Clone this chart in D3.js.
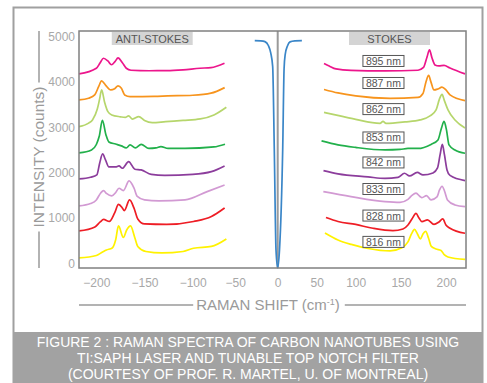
<!DOCTYPE html>
<html><head><meta charset="utf-8">
<script src="https://cdn.jsdelivr.net/npm/d3@7"></script>
<style>
html,body{margin:0;padding:0;background:#fff;}
svg{display:block;font-family:"Liberation Sans",Arial,sans-serif;}
</style></head>
<body><svg id="c" width="487" height="383"></svg>
<script>
// ---- data (Raman shift cm^-1, intensity counts) ----
const wavelengths = ["895 nm","887 nm","862 nm","853 nm","842 nm","833 nm","828 nm","816 nm"];
const colors = ["#ec168c","#f7941d","#b6d66c","#22b04b","#8c3d9c","#d29ad3","#ee1d25","#fff200"];
const labelLevels = [4460, 3975, 3400, 2775, 2225, 1640, 1055, 475];
const xTicks = [-200,-150,-100,-50,0,50,100,150,200];
const yTicks = [0,1000,2000,3000,4000,5000];

const antiStokes895 = [[-218,4175],[-200,4300],[-196,4420],[-192.6,4520],[-188,4460],[-184.3,4377],[-180.5,4450],[-177.5,4527],[-173,4420],[-168.9,4300],[-164,4256],[-145,4245],[-126.7,4247],[-110,4265],[-91.4,4300],[-78.5,4313],[-62.6,4410]];
const antiStokes887 = [[-218,3602],[-208,3640],[-201.7,3712],[-197.5,3900],[-194.6,4020],[-190.5,3930],[-185,3822],[-181,3850],[-177.5,3910],[-174,3860],[-170.6,3712],[-165,3675],[-140,3680],[-126,3690],[-100,3705],[-78.5,3750],[-62.4,3873]];
const antiStokes862 = [[-218,3014],[-208,3090],[-204,3161],[-199,3400],[-196.8,3602],[-194.5,3822],[-191.5,3558],[-188,3344],[-184,3271],[-175,3230],[-170,3216],[-166.5,3250],[-162.5,3180],[-156,3235],[-150,3150],[-142,3102],[-128,3124],[-110,3150],[-91,3183],[-75,3271],[-60.4,3441]];
const antiStokes853 = [[-218,2434],[-205,2500],[-200,2620],[-197,2800],[-193.7,3150],[-190,2831],[-187,2677],[-180,2630],[-174,2589],[-169,2544],[-165,2611],[-159.5,2544],[-153.5,2622],[-145.5,2533],[-138,2544],[-133,2573],[-125.5,2533],[-108,2533],[-75,2566],[-62,2626]];
const antiStokes842 = [[-218,1862],[-206,1900],[-199.5,1950],[-196.5,2214],[-193.5,2412],[-190.5,2280],[-187,2126],[-180,2126],[-176.5,2148],[-173,2097],[-166.5,2243],[-160,2075],[-153.5,2060],[-143,1961],[-129,1939],[-100,1961],[-78,2022],[-62.5,2148]];
const antiStokes833 = [[-218,1267],[-206,1320],[-200,1399],[-195.5,1553],[-192.5,1604],[-189.5,1542],[-184,1487],[-180,1560],[-176.5,1657],[-172,1604],[-166,1817],[-161,1663],[-157.5,1476],[-150,1399],[-135,1377],[-108,1399],[-83,1582],[-62.5,1729]];
const antiStokes828 = [[-218,716],[-201.5,804],[-196,914],[-192.5,969],[-186.5,925],[-181,1113],[-177,1300],[-173,1223],[-171,1163],[-165.5,1399],[-161,1223],[-157,980],[-150,870],[-127,859],[-99,925],[-78,1035],[-62.5,1223]];
const antiStokes816 = [[-218,121],[-200,176],[-193.5,253],[-189.5,297],[-183.5,341],[-180,518],[-177,826],[-172,573],[-168.5,738],[-164.5,826],[-160,562],[-157,375],[-148.5,264],[-132,231],[-110,264],[-99,335],[-78,375],[-60.4,540]];

const stokes895 = [[59.4,4406],[66,4350],[74.7,4285],[94,4252],[132.4,4241],[168.9,4256],[175,4318],[178.9,4549],[181.6,4703],[184.4,4527],[187.7,4373],[192,4350],[197.7,4362],[204.3,4307],[220.9,4175]];
const stokes887 = [[59.4,3833],[77.3,3756],[100,3690],[138,3635],[168.9,3657],[174.4,3745],[177.7,3998],[180.7,4142],[183.2,4000],[186.6,3822],[191,3844],[195.4,3882],[199.8,3822],[204.3,3712],[220.9,3586]];
const stokes862 = [[59.4,3327],[79.9,3249],[100,3172],[126.9,3084],[130.2,3128],[133.5,3084],[154.5,3117],[171.2,3161],[182.2,3249],[188.9,3382],[192.7,3624],[195.5,3723],[198.2,3580],[202.1,3382],[209.8,3161],[220.9,2985]];
const stokes853 = [[56.2,2699],[77.3,2611],[100,2555],[132.4,2500],[149,2511],[157.8,2533],[168.9,2533],[183.3,2622],[191,2721],[194.9,2985],[197.7,3128],[200.4,2941],[203.2,2611],[209.8,2500],[220.9,2428]];
const stokes842 = [[58.7,2044],[77.3,1972],[113.6,1906],[132.4,1873],[146.8,1895],[154,1987],[159.5,1928],[168.1,2005],[174.4,1950],[185.5,1994],[190.5,2104],[193.3,2390],[195.8,2622],[198.2,2390],[201,2060],[204.3,1939],[220.9,1824]];
const stokes833 = [[58.5,1582],[94,1472],[132.4,1361],[149,1344],[157.8,1410],[162.2,1498],[166.7,1547],[171.1,1476],[173.3,1450],[178.3,1494],[183.3,1399],[189.9,1465],[192.7,1619],[195.5,1701],[198.2,1597],[201.5,1399],[209.8,1289],[220.9,1251]];
const stokes828 = [[61.9,1013],[77.3,925],[100,859],[119.1,775],[141.2,723],[152.3,760],[157.8,848],[162.2,980],[166.7,1101],[170,1002],[173.3,921],[179.4,958],[186.6,859],[192.1,914],[196.3,980],[199.8,848],[204.3,775],[220.9,665]];
const stokes816 = [[60.6,672],[77.3,518],[94.4,419],[113.6,330],[137.9,275],[150.4,341],[157.8,474],[161.7,650],[165,749],[168.3,650],[171.6,540],[174.4,650],[177.4,705],[180.5,562],[183.6,375],[188.8,319],[194.4,286],[198.2,187],[202.1,143],[220.9,88]];

const laserNotch = [[-27,4908],[-20,4902],[-15,4885],[-11,4800],[-8.2,4637],[-5.9,4335],[-4,2500],[-2,300],[0,-95],[2.3,300],[6.4,2500],[8.2,4300],[9.6,4600],[12.5,4790],[15.8,4880],[22,4902],[31,4908]];

const antiStokes = [antiStokes895,antiStokes887,antiStokes862,antiStokes853,antiStokes842,antiStokes833,antiStokes828,antiStokes816];
const stokes = [stokes895,stokes887,stokes862,stokes853,stokes842,stokes833,stokes828,stokes816];

// ---- layout ----
const plot = {left:79, right:466, top:31, bottom:268};
const svg = d3.select("#c");

const x = d3.scaleLinear().domain([-218,-100,0,100,222])
  .range([plot.left,192.7,277.7,355.7,plot.right]);
const y = d3.scaleLinear().domain([-100,5120]).range([plot.bottom,plot.top]);

// outer frame + caption band
svg.append("rect").attr("x",13.5).attr("y",7.5).attr("width",469).attr("height",380)
  .attr("fill","#fff").attr("stroke","#a0a0a0").attr("stroke-width",2);
svg.append("rect").attr("x",13).attr("y",332).attr("width",470).attr("height",51).attr("fill","#a2a2a2");
const caption = ["FIGURE 2 : RAMAN SPECTRA OF CARBON NANOTUBES USING",
  "TI:SAPH LASER AND TUNABLE TOP NOTCH FILTER",
  "(COURTESY OF PROF. R. MARTEL, U. OF MONTREAL)"];
svg.append("g").selectAll("text").data(caption).join("text")
  .attr("x",248).attr("y",(d,i)=>346.5+i*16.3).attr("text-anchor","middle")
  .attr("fill","#fff").attr("font-size",14).text(d=>d);

// header boxes
const headers = [{t:"ANTI-STOKES",a:-184,b:-100},{t:"STOKES",a:91.4,b:182.2}];
headers.forEach(h=>{
  svg.append("rect").attr("x",x(h.a)).attr("y",plot.top+1).attr("width",x(h.b)-x(h.a)).attr("height",13).attr("fill","#d4d4d4");
  svg.append("text").attr("x",(x(h.a)+x(h.b))/2).attr("y",plot.top+11.5).attr("text-anchor","middle")
    .attr("fill","#555").attr("font-size",11).text(h.t);
});

// zero line
svg.append("line").attr("x1",x(0)).attr("x2",x(0)).attr("y1",plot.top).attr("y2",plot.bottom)
  .attr("stroke","#9a9a9a").attr("stroke-width",2);

// spectra
const line = d3.line().x(d=>x(d[0])).y(d=>y(d[1])).curve(d3.curveMonotoneX);
const g = svg.append("g").attr("fill","none").attr("stroke-width",1.7).attr("stroke-linejoin","round");
antiStokes.forEach((s,i)=>g.append("path").attr("d",line(s)).attr("stroke",colors[i]));
stokes.forEach((s,i)=>g.append("path").attr("d",line(s)).attr("stroke",colors[i]));
g.append("path").attr("d",line(laserNotch)).attr("stroke","#3a86c8");

// wavelength labels
const lab = svg.append("g");
wavelengths.forEach((w,i)=>{
  const cx = (x(108)+x(153.4))/2, cy = y(labelLevels[i]);
  lab.append("rect").attr("x",x(108)).attr("y",cy-5.5).attr("width",x(153.4)-x(108)).attr("height",11)
    .attr("fill","#fff").attr("stroke","#555").attr("stroke-width",1);
  lab.append("text").attr("x",cx).attr("y",cy+4).attr("text-anchor","middle").attr("fill","#555")
    .attr("font-size",10.5).text(w);
});

// plot frame
svg.append("rect").attr("x",plot.left).attr("y",plot.top).attr("width",plot.right-plot.left)
  .attr("height",plot.bottom-plot.top).attr("fill","none").attr("stroke","#808080").attr("stroke-width",1.5);

// axes
const xAxis = d3.axisBottom(x).tickValues(xTicks).tickSize(0).tickPadding(10).tickFormat(d3.format("d"));
const gx = svg.append("g").attr("transform",`translate(0,${plot.bottom})`).call(xAxis);
const yAxis = d3.axisLeft(y).tickValues(yTicks).tickSize(0).tickPadding(4).tickFormat(d3.format("d"));
const gy = svg.append("g").attr("transform",`translate(${plot.left},0)`).call(yAxis);
[gx,gy].forEach(a=>{a.select(".domain").remove();
  a.selectAll("text").attr("fill","#a8a8a8").attr("font-size",12).attr("font-family","Liberation Sans, Arial, sans-serif");});

// axis titles with rules
const tc = "#9a9a9a";
const xt = svg.append("text").attr("x",268).attr("y",310).attr("text-anchor","middle").attr("fill",tc).attr("font-size",15);
xt.append("tspan").text("RAMAN SHIFT (cm");
xt.append("tspan").attr("font-size",9).attr("dy",-5).text("-1");
xt.append("tspan").attr("dy",5).text(")");
const xb = xt.node().getBBox();
svg.append("line").attr("x1",plot.left).attr("x2",xb.x-3).attr("y1",305).attr("y2",305).attr("stroke",tc).attr("stroke-width",1.5);
svg.append("line").attr("x1",xb.x+xb.width+5).attr("x2",plot.right).attr("y1",305).attr("y2",305).attr("stroke",tc).attr("stroke-width",1.5);

const yt = svg.append("text").attr("transform","translate(44,157) rotate(-90)").attr("text-anchor","middle")
  .attr("fill",tc).attr("font-size",15.5).text("INTENSITY (counts)");
const yw = yt.node().getComputedTextLength();
svg.append("line").attr("x1",39).attr("x2",39).attr("y1",plot.top).attr("y2",157-yw/2-4).attr("stroke",tc).attr("stroke-width",1.5);
svg.append("line").attr("x1",39).attr("x2",39).attr("y1",157+yw/2+4).attr("y2",plot.bottom).attr("stroke",tc).attr("stroke-width",1.5);
</script></body></html>
